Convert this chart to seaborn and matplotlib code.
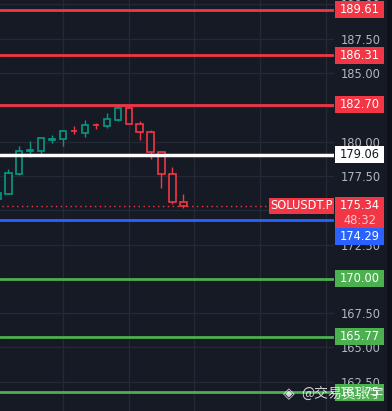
import matplotlib
matplotlib.use("Agg")
import matplotlib.pyplot as plt
import seaborn as sns
import numpy as np
from matplotlib.patches import Rectangle
from matplotlib import font_manager

# candle data (index 0 is the partly visible one at the left edge)
opens  = [175.82, 176.20, 177.66, 179.32, 179.34, 180.13, 180.21, 180.79, 180.65, 181.23,
          181.16, 181.60, 182.43, 181.26, 180.68, 179.26, 177.62, 175.58]
closes = [176.25, 177.69, 179.29, 179.36, 180.26, 180.17, 180.75, 180.76, 181.19, 181.20,
          181.63, 182.43, 181.26, 180.68, 179.26, 177.62, 175.58, 175.34]
highs  = [176.35, 178.00, 179.68, 180.04, 180.30, 180.48, 180.84, 181.14, 181.57, 181.38,
          182.06, 182.67, 182.59, 181.50, 180.87, 179.30, 178.15, 176.18]
lows   = [175.70, 176.15, 177.57, 178.86, 179.12, 179.92, 179.70, 180.55, 180.31, 180.90,
          181.01, 181.52, 181.26, 180.14, 178.71, 176.64, 175.43, 175.18]

# horizontal levels
red_levels = [189.61, 186.31, 182.70]
white_level = 179.06
blue_level = 174.29
green_levels = [170.00, 165.77, 161.75]
last_price = 175.34
countdown = "48:32"
symbol = "SOLUSDT.P"
price_ticks = [162.5, 165.0, 167.5, 170.0, 172.5, 175.0, 177.5, 180.0, 182.5, 185.0, 187.5, 190.0]
hidden_ticks = [170.0, 175.0, 182.5]  # fully covered by price tags
watermark = "@交易员张宇"

BG = "#161a25"
GRID = "#252935"
RED = "#f23645"
TEAL = "#089981"
GREEN = "#4caf50"
BLUE = "#2962ff"
TXT = "#b2b5be"

sns.set_theme(style="dark", rc={"axes.facecolor": BG, "figure.facecolor": BG,
                                "grid.color": GRID, "axes.edgecolor": BG})
plt.rcParams['font.family'] = ['DejaVu Sans', 'Noto Sans CJK SC']

# pick a narrow font for the price scale if one is installed
names = {f.name for f in font_manager.fontManager.ttflist}
cond = [f for f in font_manager.fontManager.ttflist
        if f.name == "DejaVu Sans" and "condensed" in str(f.stretch).lower()]
if "Liberation Sans Narrow" in names:
    NUM = dict(family="Liberation Sans Narrow", fontsize=10.5)
elif cond:
    NUM = dict(family="DejaVu Sans", stretch="condensed", fontsize=9.2)
else:
    NUM = dict(family="Roboto", fontsize=9.2)

W, H = 392, 411
fig = plt.figure(figsize=(W / 100, H / 100), dpi=100)
ax = fig.add_axes([0, 0, 334 / W, 1])
ax.set_facecolor(BG)

x0 = 0.238
ax.set_xlim(x0, x0 + 334 / 10.94)
ax.set_ylim(160.37, 190.32)

# grid
ax.set_xticks([6, 12, 18, 24, 30])
ax.set_xticklabels([])
ax.tick_params(axis="x", length=0)
ax.set_yticks(price_ticks)
ax.set_yticklabels(["" if t in hidden_ticks else f"{t:.2f}" for t in price_ticks])
ax.grid(True, color=GRID, linewidth=1)
ax.yaxis.tick_right()
ax.tick_params(axis="y", length=0, pad=19.5, labelcolor=TXT)
for lab in ax.get_yticklabels():
    lab.set_ha("center")
    lab.set_fontproperties(font_manager.FontProperties(
        family=NUM["family"], stretch=NUM.get("stretch", "normal"), size=NUM["fontsize"]))
for s in ax.spines.values():
    s.set_visible(False)

# candles
idx = np.arange(len(opens))
for i in idx:
    o, c, h, l = opens[i], closes[i], highs[i], lows[i]
    col = TEAL if c >= o else RED
    ax.vlines(i, l, h, color=col, linewidth=1, zorder=3)
    lo = min(o, c)
    hgt = max(abs(c - o), 0.02)
    ax.bar(i, hgt, bottom=lo, width=0.58, facecolor=BG, edgecolor=col,
           linewidth=1.2, zorder=4)

# level lines
for lv in red_levels:
    ax.axhline(lv, color=RED, linewidth=2, zorder=5)
ax.axhline(white_level, color="white", linewidth=2.5, zorder=5)
ax.axhline(blue_level, color=BLUE, linewidth=2, zorder=5)
for lv in green_levels:
    ax.axhline(lv, color=GREEN, linewidth=2, zorder=5)
ax.plot([x0 + 2 / 10.94, x0 + 268 / 10.94], [last_price, last_price], color=RED,
        linewidth=1, linestyle=(0, (1, 2.5)), zorder=2)

# price scale labels
ppu = 13.72  # pixels per price unit
tr = ax.get_yaxis_transform()
bx0, bx1 = 335 / 334, 384 / 334
bh = 17 / ppu


def tag_text(x, y, text, color):
    ax.text(x, y, text, transform=tr, ha="center", va="center", color=color,
            zorder=11, clip_on=False, **NUM)


def label(y_center, text, face, fg, h=bh):
    ax.add_patch(Rectangle((bx0, y_center - h / 2), bx1 - bx0, h, transform=tr,
                           facecolor=face, edgecolor="none", clip_on=False, zorder=10))
    tag_text((bx0 + bx1) / 2, y_center, text, fg)


for lv in red_levels:
    label(lv, f"{lv:.2f}", RED, "white")
label(white_level, f"{white_level:.2f}", "white", "#131722")
for lv in green_levels:
    label(lv, f"{lv:.2f}", GREEN, "white")

# last price box with countdown, blue box pushed below it
top = last_price + 8.3 / ppu
ax.add_patch(Rectangle((bx0, top - 31 / ppu), bx1 - bx0, 31 / ppu, transform=tr,
                       facecolor=RED, edgecolor="none", clip_on=False, zorder=10))
tag_text((bx0 + bx1) / 2, last_price, f"{last_price:.2f}", "white")
tag_text((bx0 + bx1) / 2, last_price - 14.5 / ppu, countdown, "#f9c9ce")
blue_c = top - 31 / ppu - 8.4 / ppu
label(blue_c, f"{blue_level:.2f}", BLUE, "white")

# symbol tag
sx0, sx1 = 269 / 334, 333.5 / 334
ax.add_patch(Rectangle((sx0, last_price - 8 / ppu), sx1 - sx0, 16 / ppu, transform=tr,
                       facecolor=RED, edgecolor="none", clip_on=False, zorder=10))
tag_text((sx0 + sx1) / 2, last_price, symbol, "white")

# dark strip at right edge
fig.patches.append(Rectangle((387 / W, 0), 5 / W, 1, transform=fig.transFigure,
                             facecolor="#0e1118", edgecolor="none", zorder=20))

# watermark
fig.text(289 / W, 1 - 394 / H, "◈", color="white", alpha=0.8, fontsize=11,
         ha="center", va="center", family=["DejaVu Sans"], zorder=30)
fig.text(384 / W, 1 - 394 / H, watermark, color="white", alpha=0.8, fontsize=10,
         ha="right", va="center", family=["Noto Sans CJK SC", "DejaVu Sans"], zorder=30)

fig.savefig("out.png", dpi=100, facecolor=BG)
